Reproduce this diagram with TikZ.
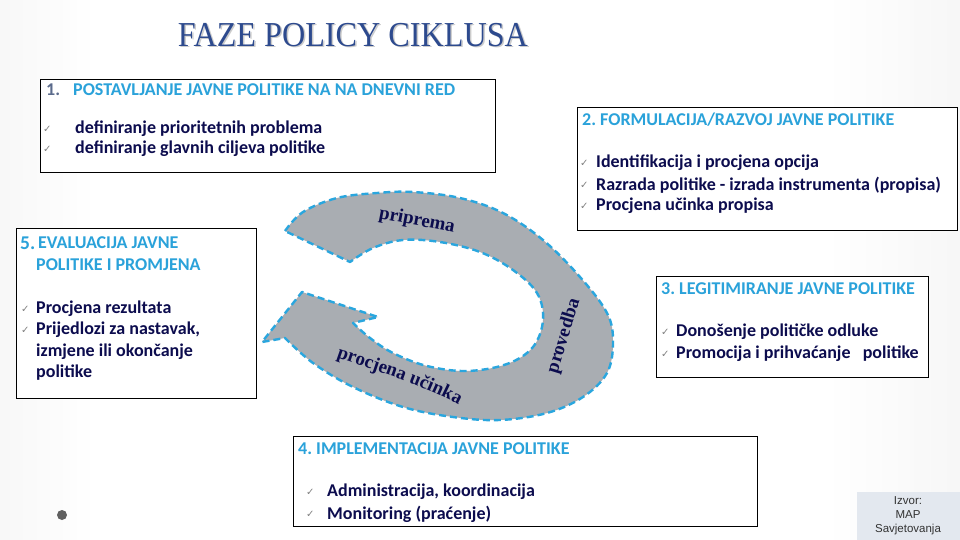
\documentclass[tikz,border=0pt]{standalone}
\usepackage{fontspec}
\setmainfont{Carlito}
\newfontfamily\titlefont{Liberation Serif}
\newfontfamily\symfont{DejaVu Sans}
\newfontfamily\srcfont{Liberation Sans}
\usetikzlibrary{shadings,decorations.text}
\definecolor{headblue}{HTML}{2AA2DA}
\definecolor{navy}{HTML}{0C0C4E}
\definecolor{titleblue}{HTML}{2D4A8E}
\definecolor{arrowgray}{HTML}{A9ADB2}
\definecolor{dashcyan}{HTML}{2AA6DE}
\definecolor{numgray}{HTML}{5B6B8C}
\definecolor{srcfill}{HTML}{E3E8EF}
\pgfdeclarehorizontalshading{slidebg}{100bp}{color(0bp)=(gray!34); color(30bp)=(white); color(68bp)=(white); color(100bp)=(gray!30)}
\tikzset{
  box/.style={draw=black, line width=1.2pt, fill=white, anchor=north west, inner sep=0pt},
  head/.style={font=\bfseries\fontsize{18}{20}\selectfont, text=headblue, anchor=west, inner sep=0pt},
  item/.style={font=\bfseries\fontsize{18}{20}\selectfont, text=navy, anchor=west, inner sep=0pt},
  chk/.style={font=\symfont\fontsize{10}{11}\selectfont, text=gray, anchor=west, inner sep=0pt},
  arrlabel/.style={font=\titlefont\bfseries\fontsize{19}{20}\selectfont, text=navy, inner sep=0pt},
  cyclearrow/.style={fill=arrowgray, draw=dashcyan, line width=2.4pt, dash pattern=on 7pt off 4pt, line join=round},
}
\begin{document}
\frenchspacing
\begin{tikzpicture}[x=1pt,y=-1pt]
\useasboundingbox (0,0) rectangle (960,540);
\shade[shading=slidebg] (0,0) rectangle (960,540);

% title
\node[font=\titlefont\fontsize{35}{36}\selectfont, text=gray!40, xscale=0.92, inner sep=0pt] (titleshadow) at (354.5,36.5) {FAZE POLICY CIKLUSA};
\node[font=\titlefont\fontsize{35}{36}\selectfont, text=titleblue, xscale=0.92, inner sep=0pt] (title) at (353,35) {FAZE POLICY CIKLUSA};

% box 1
\node[box, minimum width=455pt, minimum height=93pt] (b1) at (40,79) {};
\node[head, text=numgray] (h1n) at (46,90) {1.};
\node[head] (h1) at (73,90) {POSTAVLJANJE JAVNE POLITIKE NA NA DNEVNI RED};
\node[chk] (c11) at (43,129) {✓};
\node[item] (t11) at (75,129) {definiranje prioritetnih problema};
\node[chk] (c12) at (43,149) {✓};
\node[item] (t12) at (75,149) {definiranje glavnih ciljeva politike};

% box 2
\node[box, minimum width=380pt, minimum height=123pt] (b2) at (577,107) {};
\node[head] (h2) at (582,120) {2. FORMULACIJA/RAZVOJ JAVNE POLITIKE};
\node[chk] (c21) at (580,163) {✓};
\node[item] (t21) at (596,163) {Identifikacija i procjena opcija};
\node[chk] (c22) at (580,185) {✓};
\node[item] (t22) at (596,185) {Razrada politike - izrada instrumenta (propisa)};
\node[chk] (c23) at (580,206) {✓};
\node[item] (t23) at (596,206) {Procjena učinka propisa};

% box 5
\node[box, minimum width=240pt, minimum height=170pt] (b5) at (16,228) {};
\node[head, font=\bfseries\fontsize{19.5}{22}\selectfont] (h5n) at (20,243) {5.};
\node[head] (h5a) at (38,243) {EVALUACIJA JAVNE};
\node[head] (h5b) at (36,265) {POLITIKE I PROMJENA};
\node[chk] (c51) at (21,309) {✓};
\node[item] (t51) at (36,309) {Procjena rezultata};
\node[chk] (c52) at (21,330) {✓};
\node[item] (t52) at (36,330) {Prijedlozi za nastavak,};
\node[item] (t53) at (36,352) {izmjene ili okončanje};
\node[item] (t54) at (36,373) {politike};

% box 3
\node[box, minimum width=272pt, minimum height=101pt] (b3) at (656,276) {};
\node[head] (h3) at (661,289) {3. LEGITIMIRANJE JAVNE POLITIKE};
\node[chk] (c31) at (661,332) {✓};
\node[item] (t31) at (676,332) {Donošenje političke odluke};
\node[chk] (c32) at (661,354) {✓};
\node[item] (t32) at (676,354) {Promocija i prihvaćanje \ \ politike};

% box 4
\node[box, minimum width=464pt, minimum height=90pt] (b4) at (293,436) {};
\node[head] (h4) at (298,449) {4. IMPLEMENTACIJA JAVNE POLITIKE};
\node[chk] (c41) at (306,492) {✓};
\node[item] (t41) at (327,492) {Administracija, koordinacija};
\node[chk] (c42) at (306,514) {✓};
\node[item] (t42) at (327,514) {Monitoring (praćenje)};

% cycle arrow
\draw[cyclearrow]
  plot[smooth, tension=0.6] coordinates {(285,231) (303,212) (337,198) (377,193) (413,192) (460,198) (503,213) (543,240) (580,277) (607,313) (613,342) (607,373) (583,397) (547,413) (500,420) (453,417) (403,407) (353,387) (313,363) (285,338)}
  -- (262,342) -- (302,292) -- (378,317) -- (353,323)
  -- plot[smooth, tension=0.6] coordinates {(353,323) (370,338) (393,353) (427,366) (467,371) (507,364) (533,347) (543,320) (537,293) (513,270) (480,252) (440,242) (403,240) (373,248) (350,262)}
  -- cycle;
\node[arrlabel, rotate=-11] (lpriprema) at (417,221) {priprema};
\node[arrlabel, rotate=73] (lprovedba) at (564,336) {provedba};
\path[decorate, decoration={text along path, text align=center,
  text={|\titlefont\bfseries\fontsize{19}{20}\selectfont\color{navy}|procjena učinka}}]
  (322,352) .. controls (370,370) and (420,382) .. (472,412);

% source box
\node[fill=srcfill, anchor=north west, minimum width=103pt, minimum height=48pt, inner sep=0pt] (src) at (857,492) {};
\node[font=\srcfont\fontsize{11.5}{14}\selectfont, text=black!80, align=center, inner sep=0pt] (srctext) at (908,516) {Izvor:\\MAP\\Savjetovanja};

% dot
\node[circle, fill=gray!75!black, minimum size=10pt, inner sep=0pt] (dot) at (62,515) {};
\end{tikzpicture}
\end{document}
